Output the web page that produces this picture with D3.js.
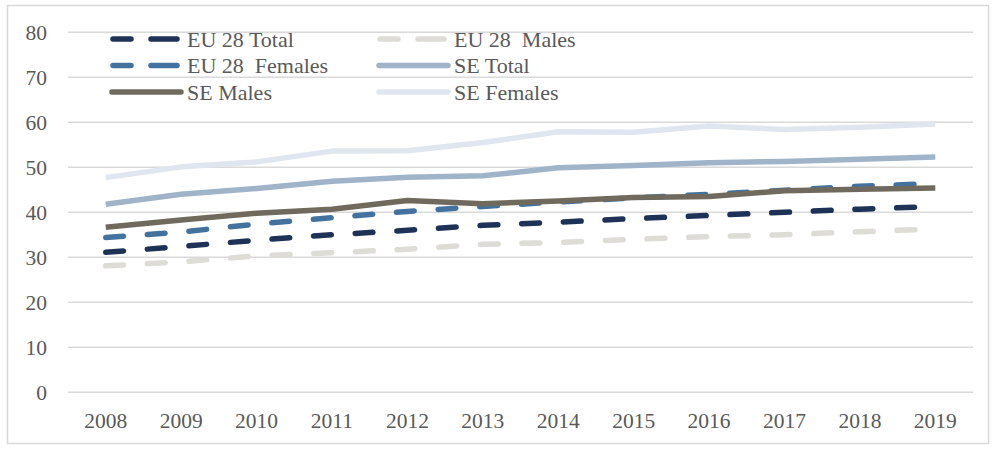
<!DOCTYPE html>
<html><head><meta charset="utf-8">
<script src="https://cdn.jsdelivr.net/npm/d3@7"></script>
<style>body{margin:0;background:#fff;}svg{display:block;}</style>
</head><body>
<svg id="chart" width="996" height="450"></svg>
<script>
const years = ["2008","2009","2010","2011","2012","2013","2014","2015","2016","2017","2018","2019"];
const yTicks = [0,10,20,30,40,50,60,70,80];
const eu28Total   = [31.1,32.4,33.8,35.0,36.0,37.1,37.8,38.6,39.3,40.0,40.7,41.3];
const eu28Males   = [28.1,29.0,30.3,31.0,31.8,32.9,33.3,34.0,34.6,35.0,35.7,36.3];
const eu28Females = [34.4,35.6,37.4,38.8,40.2,41.3,42.3,43.2,44.0,44.9,45.8,46.4];
const seTotal     = [41.8,44.0,45.3,46.9,47.8,48.1,49.9,50.4,51.0,51.3,51.8,52.3];
const seMales     = [36.7,38.3,39.8,40.7,42.6,41.9,42.5,43.3,43.5,44.8,45.1,45.4];
const seFemales   = [47.7,50.1,51.2,53.6,53.7,55.5,57.9,57.8,59.2,58.4,58.9,59.6];

const series = [
  {name:"SE Females",    values:seFemales,   color:"#e0e6ef", dashed:false},
  {name:"SE Total",      values:seTotal,     color:"#9fb4c8", dashed:false},
  {name:"EU 28 Males",   values:eu28Males,   color:"#dedcd6", dashed:true},
  {name:"EU 28 Total",   values:eu28Total,   color:"#1d3256", dashed:true},
  {name:"EU 28  Females",values:eu28Females, color:"#44729e", dashed:true},
  {name:"SE Males",      values:seMales,     color:"#706a5e", dashed:false}
];
const legendOrder = ["EU 28 Total","EU 28  Males","EU 28  Females","SE Total","SE Males","SE Females"];

const svg = d3.select("#chart");
const font = "'Liberation Serif','Times New Roman',serif";
const textColor = "#595959";
const grid = "#d9d9d9";

svg.append("rect").attr("x",7.5).attr("y",5.5).attr("width",981).attr("height",438)
  .attr("fill","#fff").attr("stroke",grid).attr("stroke-width",1.5);

const x = d3.scaleBand().domain(years).range([68,973]);
const y = d3.scaleLinear().domain([0,80]).range([392.3,32.3]);

// gridlines
svg.append("g").selectAll("line").data(yTicks).join("line")
  .attr("x1",68).attr("x2",973)
  .attr("y1",d=>y(d)).attr("y2",d=>y(d))
  .attr("stroke",grid).attr("stroke-width",1.5);

// y axis
const yAxis = svg.append("g").attr("transform","translate(68,0)")
  .call(d3.axisLeft(y).tickValues(yTicks).tickSize(0).tickPadding(21));
yAxis.attr("font-family",null).attr("font-size",null);
yAxis.select(".domain").remove();
yAxis.selectAll("text").style("font-family",font).style("font-size","21.5px").attr("fill",textColor);

// x axis
const xAxis = svg.append("g").attr("transform","translate(0,392.3)")
  .call(d3.axisBottom(x).tickSize(0).tickPadding(20));
xAxis.attr("font-family",null).attr("font-size",null);
xAxis.select(".domain").remove();
xAxis.selectAll("text").style("font-family",font).style("font-size","21.5px").attr("fill",textColor);

const line = d3.line().x((d,i)=>x(years[i])+x.bandwidth()/2).y(d=>y(d));
const dash = "17.8,23.9";

svg.append("g").selectAll("path").data(series).join("path")
  .attr("d",d=>line(d.values))
  .attr("fill","none")
  .attr("stroke",d=>d.color)
  .attr("stroke-width",5.5)
  .attr("stroke-linecap",d=>d.dashed?"round":"butt")
  .attr("stroke-linejoin","round")
  .attr("stroke-dasharray",d=>d.dashed?dash:null);

// legend
const byName = {};
series.forEach(s=>byName[s.name.replace(/\s+/g," ")]=s);
const legCols = [110,377];
const legRows = [39,65.5,92];
const lg = svg.append("g");
legendOrder.forEach((nm,i)=>{
  const s = byName[nm.replace(/\s+/g," ")];
  const cx = legCols[i%2], cy = legRows[Math.floor(i/2)];
  const g = lg.append("g");
  if (s.dashed) {
    [[cx+3,cx+21],[cx+41,cx+67]].forEach(([a,b])=>{
      g.append("line").attr("x1",a).attr("x2",b).attr("y1",cy).attr("y2",cy)
        .attr("stroke",s.color).attr("stroke-width",5.5).attr("stroke-linecap","round");
    });
  } else {
    g.append("line").attr("x1",cx+2).attr("x2",cx+71).attr("y1",cy).attr("y2",cy)
      .attr("stroke",s.color).attr("stroke-width",5.5).attr("stroke-linecap","round");
  }
  g.append("text").attr("x",cx+77).attr("y",cy).attr("dy","0.35em")
    .style("font-family",font).style("font-size","22px").attr("fill",textColor)
    .attr("xml:space","preserve").style("white-space","pre")
    .text(nm);
});
</script>
</body></html>
